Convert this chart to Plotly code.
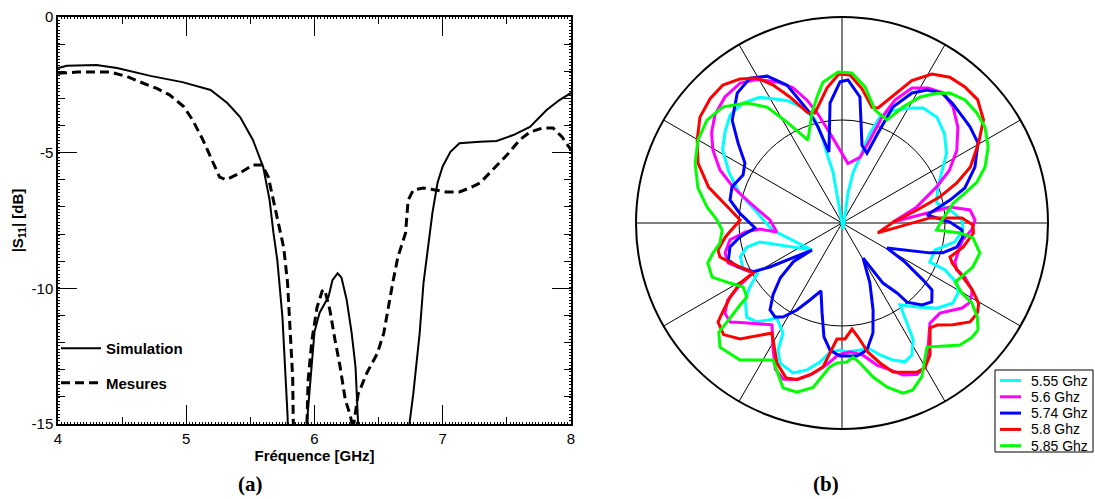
import plotly.graph_objects as go

# ---------------- (a) |S11| versus frequency ----------------
sim_f = [4.0, 4.07, 4.30, 4.46, 4.72, 4.97, 5.19, 5.32, 5.42, 5.52, 5.60, 5.65, 5.68, 5.71, 5.75, 5.79,
         5.80, 5.93, 5.94, 5.98, 6.00, 6.04, 6.11, 6.14, 6.18, 6.21, 6.25, 6.29, 6.32, 6.34,
         6.35, 6.73, 6.74, 6.77, 6.82, 6.85, 6.88, 6.92, 6.96, 7.00, 7.06, 7.13, 7.29, 7.42, 7.55,
         7.68, 7.81, 7.91, 8.0]
sim_db = [-1.88, -1.80, -1.77, -1.88, -2.17, -2.40, -2.69, -3.17, -3.69, -4.53, -5.53, -6.75, -7.96, -8.96, -11.06, -14.7,
          -17.0, -17.0, -15.0, -12.6, -11.6, -10.9, -10.3, -9.7, -9.45, -9.6, -10.4, -11.65, -12.9, -15.0,
          -17.0, -17.0, -15.0, -13.9, -11.65, -9.8, -8.6, -7.2, -6.1, -5.5, -4.97, -4.65, -4.6, -4.57, -4.35,
          -4.05, -3.43, -3.06, -2.8]

meas_f = [4.0, 4.15, 4.41, 4.54, 4.67, 4.77, 4.87, 4.98, 5.05, 5.13, 5.20, 5.26, 5.31, 5.42, 5.52, 5.59, 5.64,
          5.68, 5.72, 5.76, 5.79, 5.81, 5.83, 5.84, 5.93, 5.95, 5.98, 6.02, 6.06, 6.08, 6.12, 6.16, 6.20,
          6.24, 6.28, 6.30, 6.34, 6.41, 6.49, 6.54, 6.57, 6.61, 6.65, 6.71, 6.73, 6.77, 6.85, 6.95, 7.03,
          7.13, 7.21, 7.29, 7.39, 7.50, 7.60, 7.68, 7.78, 7.86, 7.93, 8.0]
meas_db = [-2.07, -2.03, -2.03, -2.2, -2.45, -2.63, -2.87, -3.3, -3.8, -4.53, -5.27, -5.9, -6.0, -5.75, -5.45, -5.45, -5.9,
           -6.75, -7.7, -8.5, -9.8, -11.8, -13.3, -17.0, -17.0, -13.4, -11.9, -10.7, -10.1, -10.05, -10.8, -11.9, -12.9,
           -14.1, -14.7, -15.2, -13.9, -13.1, -12.4, -11.65, -10.8, -9.8, -8.85, -7.96, -6.75, -6.38, -6.3, -6.38, -6.45,
           -6.45, -6.3, -6.12, -5.64, -5.09, -4.53, -4.24, -4.09, -4.09, -4.42, -4.9]

x_ticks = [4, 5, 6, 7, 8]
x_ticktext = ["4", "5", "6", "7", "8"]
y_ticks = [0, -5, -10, -15]
y_ticktext = ["0", "-5", "-10", "-15"]

# ---------------- (b) radiation patterns (normalised radius) ----------------
cyan_theta = [1.4, 6.9, 11.9, 19.0, 26.6, 33.7, 41.1, 48.1, 54.8, 58.7, 65.7, 70.3, 72.7, 74.7, 77.6, 78.7, 280,
              100, 100, 102, 103, 104.7, 108.6, 114, 119, 123.3, 129.5, 136, 142, 148.5, 156, 163.6, 173, 185.8,
              222, 193, 194.2, 198.4, 205.4, 211, 214.8, 218.4, 224.7, 229.3, 235.6, 241.8, 243.3, 246.1, 251.9,
              256.6, 261, 264.7, 269.1, 272.2, 278.1, 281.8, 286.1, 290.4, 294.4, 297.9, 301.3, 303, 305.3, 311.8,
              318.2, 324.2, 328.9, 332.4, 335.5, 336.1, 343.8, 350.5, 356.7, 361.4]
cyan_r = [0.583, 0.528, 0.47, 0.49, 0.54, 0.61, 0.66, 0.69, 0.683, 0.653, 0.60, 0.547, 0.458, 0.33, 0.25, 0.15, 0.03,
          0.11, 0.25, 0.33, 0.43, 0.52, 0.59, 0.65, 0.69, 0.73, 0.755, 0.755, 0.72, 0.68, 0.60, 0.52, 0.415, 0.34,
          0.196, 0.41, 0.476, 0.52, 0.53, 0.48, 0.545, 0.60, 0.65, 0.633, 0.56, 0.606, 0.69, 0.743, 0.766,
          0.733, 0.683, 0.63, 0.617, 0.627, 0.623, 0.62, 0.667, 0.71, 0.74, 0.725, 0.665, 0.58, 0.487, 0.547,
          0.62, 0.664, 0.658, 0.63, 0.55, 0.467, 0.47, 0.556, 0.588, 0.583]

magenta_theta = [-29.0, -27.3, -23.7, -22.2, -19.0, -8.1, -3.1, 1.3, 5.8, 8.4, 1.1, 12.0, 20.8, 26.1, 32.4, 39.6,
                 46.3, 52.2, 57.5, 62.6, 66.7, 69.3, 71.4, 74.7, 84.3, 97.6, 102.8, 105.9, 110.0, 114.7, 120.7,
                 126.0, 132.9, 139.6, 145.3, 150.5, 156.5, 161.7, 167.7, 177.6, 187.9, 184.2, 185.3, 188.6, 194.4,
                 199.3, 203.8, 209.3, 211.3, 214.0, 217.6, 221.5, 224.4, 235.5, 240.9, 245.5, 249.4, 254.0, 259.0,
                 264.0, 268.3, 273.5, 279.0, 283.8, 288.1, 291.9, 296.3, 299.8, 303.7, 311.3, 317.4, 324.7, 328.0,
                 331.0]
magenta_r = [0.72, 0.71, 0.65, 0.60, 0.58, 0.59, 0.63, 0.646, 0.625, 0.53, 0.248, 0.37, 0.49, 0.58, 0.66, 0.73,
             0.78, 0.80, 0.777, 0.738, 0.65, 0.55, 0.425, 0.33, 0.29, 0.44, 0.55, 0.62, 0.70, 0.754, 0.81,
             0.84, 0.835, 0.81, 0.77, 0.72, 0.646, 0.557, 0.457, 0.35, 0.32, 0.40, 0.47, 0.55, 0.586,
             0.586, 0.54, 0.495, 0.58, 0.67, 0.717, 0.726, 0.69, 0.60, 0.69, 0.78, 0.81, 0.79, 0.745,
             0.69, 0.64, 0.627, 0.65, 0.71, 0.75, 0.795, 0.82, 0.81, 0.75, 0.647, 0.646, 0.714, 0.73,
             0.72]

blue_theta = [-59, -55.7, -51.8, -50.6, -45.7, -41.3, -36.7, -35.1, -31.8, -29, -18.8, -16.5, -11.8, -6.6, -3.3,
              0.5, 5.4, 12, 15.9, 22.8, 30.5, 36.9, 41.2, 47.2, 52.4, 57.4, 61.7, 66.3, 68.2, 70.3, 75.6, 81.9,
              87.6, 90.8, 95.7, 100.4, 104, 106.2, 111.7, 117, 122.4, 128.9, 136.9, 142.4, 148.3, 154.1, 161.9,
              168.4, 174.4, 183.3, 187.8, 192.1, 198, 202.7, 208.8, 211.4, 222, 218.5, 221.6, 226.2, 230.4, 234.5,
              237.9, 242.6, 247.4, 252.8, 257.5, 261, 264.6, 269.1, 276.4, 281.1, 285.7, 289.6, 295, 301]
blue_r = [0.198, 0.353, 0.432, 0.497, 0.556, 0.58, 0.545, 0.48, 0.36, 0.25, 0.45, 0.51, 0.57, 0.59, 0.583,
          0.524, 0.415, 0.536, 0.62, 0.70, 0.766, 0.777, 0.78, 0.79, 0.796, 0.766, 0.717, 0.615, 0.47, 0.36, 0.39, 0.618,
          0.695, 0.685, 0.585, 0.35, 0.48, 0.556, 0.72, 0.80, 0.833, 0.81, 0.73, 0.637, 0.554, 0.534, 0.562,
          0.555, 0.50, 0.423, 0.50, 0.556, 0.58, 0.55, 0.49, 0.41, 0.196, 0.30, 0.40, 0.484, 0.548, 0.56,
          0.539, 0.476, 0.405, 0.345, 0.447, 0.56, 0.62, 0.646, 0.65, 0.628, 0.555, 0.45, 0.32, 0.198]

red_theta = [-33.7, -30.5, -27.1, -24.0, -20.0, -17.5, -11.2, -4.4, -0.9, 2.4, 3.3, -15.5, 1.1, 9.8, 14.9, 19.2,
             23.6, 30.5, 36.1, 42.3, 47.9, 53.5, 58.9, 63.9, 72.6, 75.4, 81.6, 86.9, 91.2, 96.3, 103.8, 107.2,
             112.4, 116.6, 120.4, 125.3, 130.8, 136.6, 143.3, 150.2, 157.4, 165.0, 172.0, 178.3, 186.8, 192.3,
             195.6, 200.0, 209.3, 210.5, 213.5, 216.9, 218.6, 223.3, 228.7, 237.5, 245.1, 250.2, 254.0, 258.1,
             262.5, 267.5, 271.5, 275.4, 278.0, 281.4, 285.2, 288.9, 293.4, 296.6, 299.8, 303.7, 310.0, 313.0,
             317.4, 322.3, 326.3]
red_r = [0.79, 0.77, 0.71, 0.64, 0.57, 0.55, 0.60, 0.64, 0.636, 0.583, 0.428, 0.18, 0.25, 0.37, 0.49, 0.59,
         0.68, 0.77, 0.85, 0.89, 0.89, 0.88, 0.845, 0.77, 0.585, 0.58, 0.66, 0.72, 0.723, 0.66, 0.55, 0.56,
         0.66, 0.75, 0.816, 0.857, 0.885, 0.88, 0.86, 0.81, 0.757, 0.67, 0.56, 0.495, 0.57, 0.616,
         0.615, 0.57, 0.495, 0.574, 0.65, 0.728, 0.77, 0.79, 0.75, 0.633, 0.75, 0.80, 0.79, 0.754,
         0.705, 0.564, 0.563, 0.517, 0.559, 0.64, 0.704, 0.765, 0.79, 0.81, 0.81, 0.77, 0.665, 0.677,
         0.73, 0.785, 0.79]

green_theta = [-38.2, -34.8, -31.6, -30.3, -27.6, -18.6, -12.3, -6.5, -4.8, -4.2, 1.7, 10.2, 13.7, 16.9, 21.4,
               27.5, 33.9, 39.2, 45.0, 50.3, 53.8, 58.2, 62.3, 66.4, 73.7, 80.4, 86.2, 91.5, 97.7, 101.2, 105.3,
               112.3, 118.6, 122.9, 128.4, 135.7, 142.7, 150.0, 157.8, 166.3, 173.2, 178.6, 183.3, 189.3, 193.1,
               196.6, 202.6, 208.2, 212.9, 217.9, 218.8, 220.7, 221.6, 225.5, 233.3, 243.3, 250.3, 255.1, 260.0,
               265.2, 268.0, 272.0, 274.7, 277.3, 281.4, 285.3, 289.7, 293.0, 297.5, 304.4, 314.0, 318.5, 321.8]
green_r = [0.84, 0.80, 0.74, 0.674, 0.62, 0.67, 0.685, 0.64, 0.575, 0.46, 0.486, 0.55, 0.615, 0.685, 0.746,
           0.80, 0.836, 0.845, 0.845, 0.82, 0.78, 0.72, 0.636, 0.546, 0.571, 0.67, 0.73, 0.733, 0.69, 0.624, 0.553,
           0.435, 0.558, 0.67, 0.743, 0.807, 0.824, 0.807, 0.77, 0.72, 0.66, 0.607, 0.583, 0.60, 0.643,
           0.68, 0.683, 0.617, 0.572, 0.585, 0.635, 0.736, 0.80, 0.845, 0.83, 0.745, 0.85, 0.85, 0.81,
           0.70, 0.68, 0.675, 0.653, 0.685, 0.763, 0.825, 0.877, 0.88, 0.84, 0.73, 0.824, 0.84, 0.84]

pattern_names = ["5.55 Ghz", "5.6 Ghz", "5.74 Ghz", "5.8 Ghz", "5.85 Ghz"]
pattern_colors = ["#00FFFF", "#FF00FF", "#0000FF", "#FF0000", "#00FF00"]

patterns = [(cyan_theta, cyan_r), (magenta_theta, magenta_r), (blue_theta, blue_r),
            (red_theta, red_r), (green_theta, green_r)]
for th, rr in patterns:
    assert len(th) == len(rr), (len(th), len(rr))
assert len(sim_f) == len(sim_db), (len(sim_f), len(sim_db))
assert len(meas_f) == len(meas_db), (len(meas_f), len(meas_db))

W, H = 1095, 499
SANS = "Liberation Sans, Arial, sans-serif"

fig = go.Figure()

fig.add_trace(go.Scatter(x=sim_f, y=sim_db, mode="lines", name="Simulation",
                         line=dict(color="black", width=2), legendgroup="a1"))
fig.add_trace(go.Scatter(x=meas_f, y=meas_db, mode="lines", name="Mesures",
                         line=dict(color="black", width=3, dash="9px,5px"), legendgroup="a2"))
# carrier trace for the fine "dotted" frame ticks
fig.add_trace(go.Scatter(x=[4], y=[0], xaxis="x2", yaxis="y2", mode="markers",
                         marker=dict(opacity=0), showlegend=False, hoverinfo="skip"))

for (th, rr), nm, col in zip(patterns, pattern_names, pattern_colors):
    fig.add_trace(go.Scatterpolar(theta=th, r=rr, mode="lines", name=nm, showlegend=False,
                                  line=dict(color=col, width=3)))

ax_x0, ax_x1 = 58 / W, 571 / W
ax_y0, ax_y1 = 1 - 424 / H, 1 - 17 / H

# ---- legend box of panel (b), laid out in paper pixels ----
leg_left, leg_top, leg_right, leg_bottom = 995, 370, 1093, 452
leg_row0, leg_step = 380.5, 16.3
shapes = [dict(type="rect", xref="paper", yref="paper",
               x0=leg_left / W, x1=leg_right / W, y0=1 - leg_bottom / H, y1=1 - leg_top / H,
               line=dict(color="black", width=1), fillcolor="white", layer="above")]
annotations = []
for i, (nm, col) in enumerate(zip(pattern_names, pattern_colors)):
    yy = 1 - (leg_row0 + i * leg_step) / H
    shapes.append(dict(type="line", xref="paper", yref="paper", x0=1000 / W, x1=1021 / W, y0=yy, y1=yy,
                       line=dict(color=col, width=3), layer="above"))
    annotations.append(dict(text=nm, x=1029 / W, y=yy, xref="paper", yref="paper", xanchor="left",
                            yanchor="middle", showarrow=False,
                            font=dict(family=SANS, size=14, color="black")))

annotations += [
    dict(text="<b>(a)</b>", x=250 / W, y=1 - 484 / H, xref="paper", yref="paper", showarrow=False,
         xanchor="center", yanchor="middle",
         font=dict(family="Liberation Serif, serif", size=21, color="black")),
    dict(text="<b>(b)</b>", x=826 / W, y=1 - 484 / H, xref="paper", yref="paper", showarrow=False,
         xanchor="center", yanchor="middle",
         font=dict(family="Liberation Serif, serif", size=21, color="black")),
]

fig.update_layout(
    width=W, height=H,
    margin=dict(l=0, r=0, t=0, b=0, autoexpand=False),
    paper_bgcolor="white", plot_bgcolor="white",
    showlegend=True,
    xaxis=dict(domain=[ax_x0, ax_x1], range=[4, 8], tickvals=x_ticks, ticktext=x_ticktext, ticks="inside",
               ticklen=19, tickwidth=1, tickcolor="black", mirror="ticks", showline=True, linecolor="black",
               linewidth=1.5, showgrid=False, zeroline=False, automargin=False,
               minor=dict(dtick=0.5, ticks="inside", ticklen=7, tickcolor="black", showgrid=False),
               tickfont=dict(family=SANS, size=15, color="black"),
               title=dict(text="<b>Fréquence [GHz]</b>", font=dict(family=SANS, size=15, color="black"),
                          standoff=0)),
    yaxis=dict(domain=[ax_y0, ax_y1], range=[-15, 0], tickvals=y_ticks, ticktext=y_ticktext, ticks="inside",
               ticklen=19, tickwidth=1, tickcolor="black", mirror="ticks", showline=True, linecolor="black",
               linewidth=1.5, showgrid=False, zeroline=False, automargin=False,
               minor=dict(dtick=1, ticks="inside", ticklen=7, tickcolor="black", showgrid=False),
               tickfont=dict(family=SANS, size=15, color="black"),
               title=dict(text="<b>|S<sub>11</sub>| [dB]</b>", font=dict(family=SANS, size=15, color="black"),
                          standoff=4)),
    xaxis2=dict(domain=[ax_x0, ax_x1], range=[4, 8], anchor="y2", overlaying="x", dtick=0.025,
                ticks="inside", ticklen=2, tickcolor="black", mirror="ticks", showticklabels=False,
                showgrid=False, zeroline=False, showline=False, automargin=False),
    yaxis2=dict(domain=[ax_y0, ax_y1], range=[-15, 0], anchor="x2", overlaying="y", dtick=0.12,
                ticks="inside", ticklen=2, tickcolor="black", mirror="ticks", showticklabels=False,
                showgrid=False, zeroline=False, showline=False, automargin=False),
    legend=dict(x=56 / W, y=1 - 332 / H, xanchor="left", yanchor="top", bgcolor="rgba(0,0,0,0)",
                font=dict(family=SANS, size=15, color="black", weight="bold"), tracegroupgap=12,
                itemwidth=40),
    polar=dict(
        domain=dict(x=[636 / W, 1048 / W], y=[1 - 429 / H, 1 - 17 / H]),
        bgcolor="white",
        radialaxis=dict(range=[0, 1], tickvals=[0.5], showticklabels=False, ticks="", showline=False,
                        gridcolor="black", gridwidth=1),
        angularaxis=dict(tickvals=list(range(0, 360, 30)), showticklabels=False, ticks="",
                         gridcolor="black", gridwidth=1, linecolor="black", linewidth=2,
                         rotation=0, direction="counterclockwise"),
    ),
    shapes=shapes,
    annotations=annotations,
)

fig.write_html("out.html", config={"displayModeBar": False},
               post_script="document.body.style.margin='0px';")
